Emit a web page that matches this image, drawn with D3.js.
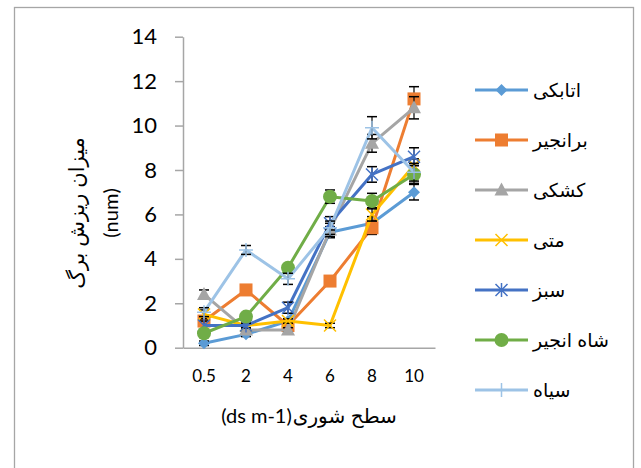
<!DOCTYPE html>
<html><head><meta charset="utf-8">
<script src="https://cdn.jsdelivr.net/npm/d3@7"></script>
<style>
html,body{margin:0;padding:0;background:#fff;}
svg{display:block;}
text{font-family:"Liberation Sans","DejaVu Sans",sans-serif;fill:#000;}
</style></head><body>
<svg id="chart" width="641" height="468"></svg>
<script>
const categories = ["0.5","2","4","6","8","10"];
const seriesNames = ["اتابکی","برانجیر","کشکی","متی","سبز","شاه انجیر","سیاه"];
const seriesColors = ["#5B9BD5","#ED7D31","#A5A5A5","#FFC000","#4472C4","#70AD47","#9DC3E6"];
const seriesMarkers = ["diamond","square","triangle","x","star","circle","plus"];
const valsAtabaki   = [0.2, 0.6, 1.2, 5.2, 5.6, 7.0];
const valsBaranjir  = [1.2, 2.6, 1.0, 3.0, 5.4, 11.2];
const valsKashki    = [2.4, 0.8, 0.8, 5.3, 9.2, 10.8];
const valsMati      = [1.5, 1.0, 1.2, 1.0, 6.0, 8.2];
const valsSabz      = [1.0, 1.0, 1.8, 5.6, 7.8, 8.6];
const valsShahanjir = [0.65, 1.4, 3.6, 6.8, 6.6, 7.8];
const valsSiah      = [1.6, 4.4, 3.1, 5.4, 9.9, 7.9];
const errAtabaki   = [0.1, 0.1, 0.1, 0.25, 0.3, 0.35];
const errBaranjir  = [0.2, 0.2, 0.1, 0.2, 0.3, 0.55];
const errKashki    = [0.2, 0.1, 0.1, 0.3, 0.4, 0.5];
const errMati      = [0.2, 0.1, 0.1, 0.1, 0.3, 0.3];
const errSabz      = [0.2, 0.1, 0.25, 0.3, 0.35, 0.4];
const errShahanjir = [0.1, 0.1, 0.1, 0.3, 0.35, 0.4];
const errSiah      = [0.2, 0.2, 0.25, 0.3, 0.5, 0.4];
const yTicks = [0,2,4,6,8,10,12,14];
const xTitleFa = "سطح شوری";
const xTitleUnit = "(ds m-1)";
const yTitle1 = "میزان ریزش برگ";
const yTitle2 = "(num)";

const allVals = [valsAtabaki,valsBaranjir,valsKashki,valsMati,valsSabz,valsShahanjir,valsSiah];
const allErrs = [errAtabaki,errBaranjir,errKashki,errMati,errSabz,errShahanjir,errSiah];
const series = seriesNames.map((n,i)=>({name:n,color:seriesColors[i],marker:seriesMarkers[i],
  pts:categories.map((c,j)=>({c, v:allVals[i][j], e:allErrs[i][j]}))}));

const svg = d3.select("#chart");
svg.append("rect").attr("x",14.5).attr("y",7.5).attr("width",619).attr("height",480)
  .attr("fill","none").attr("stroke","#A6A6A6").attr("stroke-width",1.3);

const x = d3.scaleBand().domain(categories).range([183,435]).padding(0);
const cx = c => x(c) + x.bandwidth()/2;
const y = d3.scaleLinear().domain([0,14]).range([347.7,36.7]);

const yAxis = svg.append("g").attr("transform","translate(183,0)")
  .call(d3.axisLeft(y).tickValues(yTicks).tickSize(8).tickPadding(18).tickSizeOuter(0));
yAxis.select(".domain").attr("stroke","#A6A6A6").attr("stroke-width",1.5);
yAxis.selectAll(".tick line").attr("stroke","#A6A6A6").attr("stroke-width",1.5);
yAxis.selectAll(".tick text").style("font-family","Lato, 'Open Sans', sans-serif").style("font-size","22px");

const xAxis = svg.append("g").attr("transform","translate(0,347.7)")
  .call(d3.axisBottom(x).tickSize(0).tickPadding(22).tickSizeOuter(0));
xAxis.select(".domain").attr("stroke","#A6A6A6").attr("stroke-width",1.5);
xAxis.selectAll(".tick text").style("font-family","Lato, 'Open Sans', sans-serif").style("font-size","17px");

// x title: unit on the left, Persian words on the right
const tUnit = svg.append("text").attr("y",423).style("font-size","20px")
  .style("font-family","Lato, 'Open Sans', sans-serif").text(xTitleUnit);
const tFa = svg.append("text").attr("y",423).style("font-size","20px").text(xTitleFa);
const w1 = tUnit.node().getComputedTextLength();
const w2 = tFa.node().getComputedTextLength();
const gap = 1;
const start = 309 - (w1 + gap + w2)/2;
tUnit.attr("x", start);
tFa.attr("x", start + w1 + gap);

const yt = svg.append("text").attr("transform","translate(0,213) rotate(-90)")
  .attr("text-anchor","middle").style("font-size","21px");
yt.append("tspan").attr("x",0).attr("y",84).text(yTitle1);
yt.append("tspan").attr("x",0).attr("y",118).style("font-family","Lato, 'Open Sans', sans-serif").style("font-size","20px").text(yTitle2);

function drawMarker(g, type, color){
  if(type==="diamond") g.append("path").attr("d","M0,-6L6,0L0,6L-6,0Z").attr("fill",color);
  else if(type==="square") g.append("rect").attr("x",-6.5).attr("y",-6.5).attr("width",13).attr("height",13).attr("fill",color);
  else if(type==="triangle") g.append("path").attr("d","M0,-7.5L7,5.5L-7,5.5Z").attr("fill",color);
  else if(type==="circle") g.append("circle").attr("r",7).attr("fill",color);
  else {
    let d = "";
    if(type==="x"||type==="star") d += "M-6,-6L6,6M-6,6L6,-6";
    if(type==="star") d += "M0,-7L0,7";
    if(type==="plus") d += "M-7,0L7,0M0,-7L0,7";
    g.append("path").attr("d",d).attr("stroke",color).attr("stroke-width",1.5).attr("fill","none");
  }
}

const line = d3.line().x(d=>cx(d.c)).y(d=>y(d.v));
series.forEach(s=>{
  const g = svg.append("g");
  g.append("path").datum(s.pts).attr("d",line).attr("fill","none")
    .attr("stroke",s.color).attr("stroke-width",3).attr("stroke-linejoin","round");
  const eb = g.selectAll(".eb").data(s.pts).enter().append("g");
  eb.append("line").attr("x1",d=>cx(d.c)).attr("x2",d=>cx(d.c))
    .attr("y1",d=>y(d.v-d.e)).attr("y2",d=>y(d.v+d.e)).attr("stroke","#000").attr("stroke-width",1.2);
  eb.append("line").attr("x1",d=>cx(d.c)-5).attr("x2",d=>cx(d.c)+5)
    .attr("y1",d=>y(d.v+d.e)).attr("y2",d=>y(d.v+d.e)).attr("stroke","#000").attr("stroke-width",1.5);
  eb.append("line").attr("x1",d=>cx(d.c)-5).attr("x2",d=>cx(d.c)+5)
    .attr("y1",d=>y(d.v-d.e)).attr("y2",d=>y(d.v-d.e)).attr("stroke","#000").attr("stroke-width",1.5);
  s.pts.forEach(p=>{
    const mg = g.append("g").attr("transform",`translate(${cx(p.c)},${y(p.v)})`);
    drawMarker(mg, s.marker, s.color);
  });
});

series.forEach((s,i)=>{
  const ly = 90 + i*50;
  const lg = svg.append("g");
  lg.append("line").attr("x1",475).attr("x2",528).attr("y1",ly).attr("y2",ly)
    .attr("stroke",s.color).attr("stroke-width",3);
  const mg = lg.append("g").attr("transform",`translate(501.5,${ly})`);
  drawMarker(mg, s.marker, s.color);
  lg.append("text").attr("x",533).attr("y",ly+7).style("font-size","19px").text(s.name);
});
</script>
</body></html>
